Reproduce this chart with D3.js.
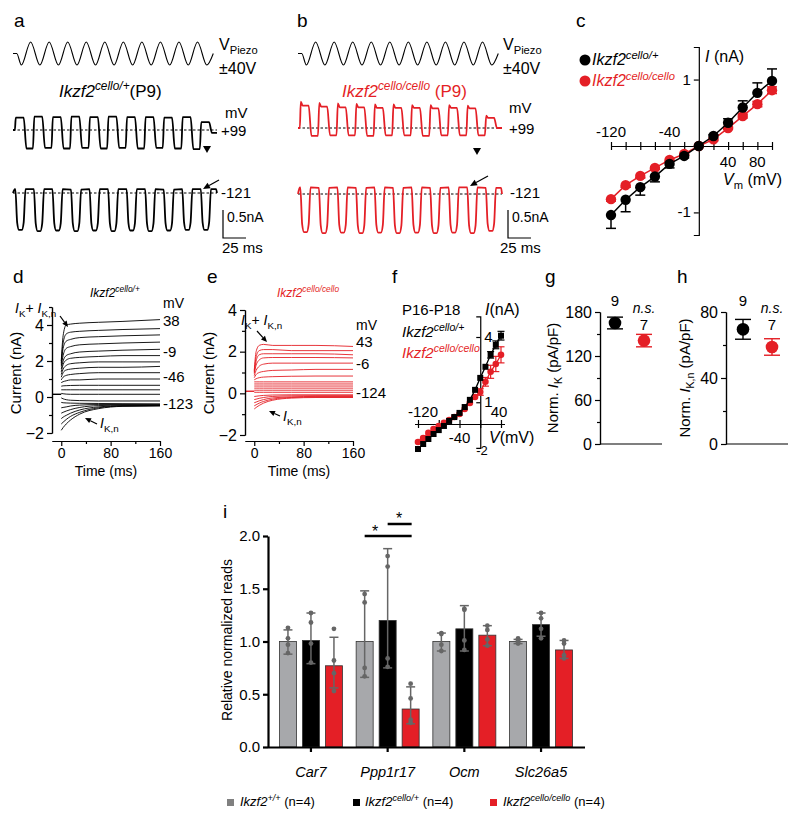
<!DOCTYPE html>
<html><head><meta charset="utf-8">
<script src="https://cdnjs.cloudflare.com/ajax/libs/d3/7.8.5/d3.min.js"></script>
<style>body{margin:0;background:#fff}svg{display:block}</style>
</head><body><svg id="fig" width="800" height="820"></svg>
<script>
// ---------------- DATA ----------------
// a,b: piezo stimulus extremes (V), alternating trough/peak every half period
const piezoExtremaV = [-40,40,-40,40,-40,40,-40,40,-40,40,-40,40,-40,40,-40,40,-40,40,-40,40,-40];
const stimHalfPeriodMs = 10, stimFirstExtremumMs = 9, stimOnsetMs = 4, stimEndMs = 216;
const metFirstCenterMs = 8, metPeriodMs = 20;
// MET currents (nA) at +99 mV (outward) and -121 mV (inward), per cycle
const hetOutTop = [0.22,0.24,0.23,0.24,0.23,0.24,0.23,0.23,0.22,0.23,0.14];
const hetOutBot = [-0.33,-0.32,-0.33,-0.32,-0.33,-0.32,-0.33,-0.32,-0.33,-0.34,-0.05];
const homOutPeak = [0.47,0.45,0.44,0.43,0.42,0.42,0.41,0.41,0.41,0.40,0.22];
const homOutTop = [0.40,0.38,0.37,0.37,0.36,0.36,0.36,0.35,0.36,0.35,0.18];
const homOutBot = [-0.14,-0.13,-0.13,-0.14,-0.13,-0.13,-0.14,-0.13,-0.13,-0.13,0];
const hetInTop = [0.07,0.07,0.07,0.06,0.07,0.07,0.07,0.07,0.06,0.07,0.07];
const hetInBot = [-0.66,-0.68,-0.67,-0.68,-0.67,-0.68,-0.67,-0.68,-0.67,-0.66,-0.66];
const homInTop = [0.12,0.11,0.12,0.11,0.12,0.11,0.12,0.11,0.12,0.12,0.11];
const homInBot = [-0.68,-0.70,-0.69,-0.70,-0.69,-0.70,-0.69,-0.70,-0.69,-0.70,-0.66];

// c: I-V of MET current
const cV = [-120,-100,-80,-60,-40,-20,0,20,40,60,80,100];
const cHet = [-1.04,-0.81,-0.62,-0.46,-0.27,-0.15,0,0.15,0.35,0.58,0.80,0.98];
const cHetErr = [0.20,0.18,0.12,0.08,0.06,0.03,0,0.02,0.06,0.10,0.15,0.18];
const cHom = [-0.80,-0.59,-0.45,-0.33,-0.21,-0.12,0,0.10,0.27,0.45,0.63,0.84];
const cHomErr = [0.03,0.03,0.03,0.02,0.02,0.02,0,0.02,0.02,0.03,0.04,0.05];

// d,e: K+ current families (nA) sampled at these times (ms)
const famTimes = [0,3,8,15,30,60,100,160];
const dCurrents = [
  [2.0,3.4,4.0,4.05,4.1,4.15,4.2,4.3],
  [1.9,3.0,3.5,3.6,3.65,3.7,3.75,3.8],
  [1.8,2.7,3.1,3.2,3.3,3.35,3.4,3.45],
  [1.7,2.3,2.7,2.8,2.9,2.95,3.0,3.05],
  [1.55,2.0,2.3,2.4,2.5,2.55,2.6,2.65],
  [1.4,1.8,2.05,2.15,2.2,2.25,2.3,2.3],
  [1.25,1.55,1.75,1.85,1.9,1.95,1.95,1.95],
  [1.1,1.35,1.5,1.55,1.6,1.65,1.65,1.7],
  [0.95,1.1,1.2,1.25,1.3,1.35,1.35,1.35],
  [0.8,0.85,0.9,0.95,0.95,1.0,1.0,1.0],
  [0.6,0.62,0.63,0.64,0.65,0.65,0.65,0.65],
  [0.4,0.4,0.4,0.4,0.4,0.4,0.4,0.4],
  [0.2,0.18,0.16,0.15,0.15,0.15,0.15,0.15],
  [-0.05,-0.1,-0.15,-0.18,-0.2,-0.22,-0.22,-0.22],
  [-0.3,-0.32,-0.33,-0.34,-0.35,-0.36,-0.37,-0.38],
  [-0.6,-0.58,-0.55,-0.5,-0.45,-0.42,-0.42,-0.42],
  [-0.9,-0.85,-0.78,-0.7,-0.58,-0.48,-0.45,-0.45],
  [-1.2,-1.12,-1.02,-0.9,-0.72,-0.55,-0.48,-0.47],
  [-1.5,-1.4,-1.25,-1.08,-0.85,-0.6,-0.5,-0.48],
  [-1.85,-1.7,-1.5,-1.28,-0.95,-0.65,-0.52,-0.5]
];
const dHoldNA = 0.15;
const eCurrents = [
  [1.1,2.0,2.3,2.35,2.3,2.3,2.3,2.25],
  [1.05,1.75,2.05,2.1,2.1,2.05,2.05,2.05],
  [1.0,1.55,1.85,1.9,1.9,1.9,1.9,1.85],
  [0.95,1.35,1.6,1.7,1.72,1.72,1.72,1.7],
  [0.85,1.1,1.3,1.4,1.45,1.45,1.45,1.45],
  [0.75,0.9,1.0,1.05,1.1,1.12,1.15,1.15],
  [0.65,0.7,0.75,0.78,0.8,0.82,0.83,0.83],
  [0.55,0.55,0.55,0.55,0.55,0.55,0.55,0.55],
  [0.45,0.45,0.45,0.45,0.45,0.45,0.45,0.45],
  [0.35,0.35,0.35,0.35,0.35,0.35,0.35,0.35],
  [0.25,0.25,0.25,0.25,0.25,0.25,0.25,0.25],
  [0.15,0.15,0.15,0.15,0.15,0.15,0.15,0.15],
  [0.05,0.05,0.05,0.05,0.05,0.05,0.05,0.05],
  [-0.15,-0.14,-0.12,-0.1,-0.08,-0.07,-0.07,-0.07],
  [-0.3,-0.28,-0.24,-0.2,-0.15,-0.12,-0.11,-0.11],
  [-0.45,-0.42,-0.36,-0.3,-0.22,-0.17,-0.15,-0.15],
  [-0.6,-0.55,-0.47,-0.39,-0.28,-0.2,-0.18,-0.18],
  [-0.75,-0.68,-0.58,-0.47,-0.33,-0.23,-0.2,-0.2]
];
const eHoldNA = 0.1;

// f: steady-state I-V (P16-P18)
const fV = [-120,-110,-100,-90,-80,-70,-60,-50,-40,-30,-20,-10,0,10,20,30,40];
const fHet = [-1.15,-0.92,-0.69,-0.46,-0.28,-0.09,0.14,0.32,0.51,0.78,1.11,1.57,2.12,2.63,3.18,3.64,4.06];
const fHetErr = [0,0,0,0,0,0,0,0,0,0,0,0,0,0,0.15,0.18,0.2];
const fHom = [-0.83,-0.65,-0.41,-0.23,-0.09,0.05,0.18,0.32,0.46,0.69,0.97,1.24,1.47,1.94,2.4,2.76,3.18];
const fHomErr = [0,0,0,0,0,0,0,0,0,0,0,0,0.15,0.2,0.3,0.35,0.37];

// g,h: normalised currents (mean, SEM, n)
const ghGroups = ['het','hom'];
const gMean = [165,141], gErr = [8,8.5], gN = [9,7];
const hMean = [69.5,58.8], hErr = [6,5], hN = [9,7];

// i: RNA-seq
const genes = ['Car7','Ppp1r17','Ocm','Slc26a5'];
const genotypes = ['wt','het','hom'];
const barMeans = [[1.0,1.01,0.77],[1.0,1.2,0.36],[1.0,1.12,1.06],[1.0,1.16,0.92]];
const barErrHi = [[1.11,1.27,1.04],[1.48,1.88,0.57],[1.08,1.34,1.15],[1.02,1.27,1.01]];
const barErrLo = [[0.88,0.79,0.56],[0.66,0.75,0.22],[0.91,0.91,0.96],[0.98,1.05,0.84]];
const barPoints = [
  [[1.13,1.03,0.97,0.89],[1.27,1.18,0.98,0.80],[1.12,0.82,0.70,0.53]],
  [[1.45,1.37,0.75,0.67],[1.81,1.71,0.84,0.76],[0.60,0.46,0.26,0.23]],
  [[1.08,1.07,0.97,0.91],[1.31,1.30,1.01,0.92],[1.15,1.11,1.02,0.96]],
  [[1.03,1.01,0.99,0.98],[1.27,1.22,1.12,1.03],[1.01,0.98,0.87,0.84]]
];
const yTicksI = [0,0.5,1.0,1.5,2.0];

// ---------------- DRAWING ----------------
const FONT = '"Liberation Sans", Arial, Helvetica, sans-serif';
const RED = '#e41f26';
const svg = d3.select('#fig').attr('font-family', FONT);
svg.append('rect').attr('width',800).attr('height',820).attr('fill','#fff');

function rich(parent, x, y, segs, size, fill, anchor, rotate) {
  const t = parent.append('text').attr('x', x).attr('y', y).attr('font-size', size)
    .attr('fill', fill || '#000').attr('text-anchor', anchor || 'start');
  if (rotate) t.attr('transform', `rotate(${rotate},${x},${y})`);
  let shift = 0;
  segs.forEach(s => {
    const txt = s[0], kind = s[1] || '';
    let target = 0, fs = size;
    if (kind.includes('sup')) { target = -size*0.4; fs = size*0.7; }
    if (kind.includes('sub')) { target = size*0.28; fs = size*0.7; }
    const sp = t.append('tspan').text(txt).attr('font-size', fs);
    if (target !== shift) sp.attr('dy', target - shift);
    shift = target;
    if (kind.includes('i')) sp.attr('font-style', 'italic');
  });
  return t;
}
function arrow(g, x1, y1, x2, y2, size) {
  size = size || 6;
  const a = Math.atan2(y2-y1, x2-x1);
  const bx = x2 - size*Math.cos(a), by = y2 - size*Math.sin(a);
  g.append('line').attr('x1',x1).attr('y1',y1).attr('x2',bx).attr('y2',by).attr('stroke','#000').attr('stroke-width',1.2);
  const w = size*0.45;
  g.append('polygon').attr('points', [[x2,y2],[bx + w*Math.sin(a), by - w*Math.cos(a)],[bx - w*Math.sin(a), by + w*Math.cos(a)]].map(p=>p.join(',')).join(' ')).attr('fill','#000');
}
function styleAxis(ax, size) {
  ax.attr('font-family', FONT).attr('font-size', size || 15);
  ax.selectAll('path,line').attr('stroke','#000').attr('stroke-width',1.2);
  ax.selectAll('text').attr('fill','#000');
}

// panel letters
[['a',14,27],['b',297,27],['c',576,27],['d',13,283],['e',207,283],['f',392,283],['g',545,283],['h',677,283],['i',223,518]]
  .forEach(([t,x,y]) => svg.append('text').attr('x',x).attr('y',y).attr('font-size',19).text(t));

// ----- a, b -----
function tracePanel(ox, color, outTop, outBot, outPeak, inTop, inBot, zeroOut, zeroIn) {
  const g = svg.append('g');
  const xT = d3.scaleLinear().domain([0,220]).range([13+ox, 217+ox]);
  const yS = d3.scaleLinear().domain([-40,40]).range([65,42]);
  const yO = d3.scaleLinear().domain([0,0.5]).range([zeroOut, zeroOut-28]);
  const yI = d3.scaleLinear().domain([0,0.5]).range([zeroIn, zeroIn-28]);
  const sp = [[0,0],[stimOnsetMs,0]];
  piezoExtremaV.forEach((v,i)=> sp.push([stimFirstExtremumMs + stimHalfPeriodMs*i, v]));
  sp.push([stimEndMs, 0]);
  g.append('path').attr('d', d3.line().x(d=>xT(d[0])).y(d=>yS(d[1])).curve(d3.curveMonotoneX)(sp))
    .attr('fill','none').attr('stroke','#000').attr('stroke-width',1.1);
  [zeroOut, zeroIn].forEach(z => g.append('line').attr('x1',xT(0)).attr('x2',xT(220)).attr('y1',z).attr('y2',z)
    .attr('stroke','#000').attr('stroke-width',1).attr('stroke-dasharray','2.5,2'));
  const op = [[0,0],[2,0]];
  outTop.forEach((tp,k) => {
    const c = metFirstCenterMs + metPeriodMs*k;
    if (outPeak) op.push([c-5, outPeak[k]], [c-3, tp]); else op.push([c-5, tp]);
    op.push([c+3.5, tp], [c+6.5, outBot[k]], [c+13.5, outBot[k]]);
  });
  const opF = op.filter(p=>p[0] < 219); opF.push([220, outBot[outBot.length-1]]);
  g.append('path').attr('d', d3.line().x(d=>xT(d[0])).y(d=>yO(d[1])).curve(d3.curveMonotoneX)(opF))
    .attr('fill','none').attr('stroke',color).attr('stroke-width',1.8).attr('stroke-linejoin','round');
  const ip = [[0,0],[2,inTop[0]]];
  inBot.forEach((b,k) => {
    const c = metFirstCenterMs + metPeriodMs*k;
    ip.push([c-5.5, inTop[k]], [c-3.5, b*0.8], [c-1.5, b], [c+1.5, b], [c+3.5, b*0.8], [c+5.5, inTop[k]]);
  });
  ip.push([219, inTop[inTop.length-1]], [220, 0]);
  g.append('path').attr('d', d3.line().x(d=>xT(d[0])).y(d=>yI(d[1])).curve(d3.curveMonotoneX)(ip))
    .attr('fill','none').attr('stroke',color).attr('stroke-width',1.8).attr('stroke-linejoin','round');
  return {g, xT, yO, yI};
}

tracePanel(0, '#000', hetOutTop, hetOutBot, null, hetInTop, hetInBot, 130, 193);
rich(svg, 219, 50, [['V'],['Piezo','sub']], 16);
svg.append('text').attr('x',219).attr('y',74).attr('font-size',16).text('±40V');
rich(svg, 59, 97, [['Ikzf2','i'],['cello/+','isup'],['(P9)']], 17);
svg.append('text').attr('x',225).attr('y',118).attr('font-size',15).text('mV');
svg.append('text').attr('x',221).attr('y',136).attr('font-size',15).text('+99');
svg.append('text').attr('x',221).attr('y',198).attr('font-size',15).text('-121');
svg.append('path').attr('d','M203,146 L211,146 L207,153 Z').attr('fill','#000');
arrow(svg, 219, 180, 203, 189, 7);
svg.append('path').attr('d', `M223,210 L223,238 L246,238`).attr('fill','none').attr('stroke','#000').attr('stroke-width',1.2);
svg.append('text').attr('x',227).attr('y',222).attr('font-size',14).text('0.5nA');
svg.append('text').attr('x',222).attr('y',253).attr('font-size',15).text('25 ms');

tracePanel(285, RED, homOutTop, homOutBot, homOutPeak, homInTop, homInBot, 128, 194);
rich(svg, 503, 50, [['V'],['Piezo','sub']], 16);
svg.append('text').attr('x',503).attr('y',74).attr('font-size',16).text('±40V');
rich(svg, 342, 97, [['Ikzf2','i'],['cello/cello','isup'],[' (P9)']], 17, RED);
svg.append('text').attr('x',509).attr('y',113).attr('font-size',15).text('mV');
svg.append('text').attr('x',509).attr('y',134).attr('font-size',15).text('+99');
svg.append('text').attr('x',510).attr('y',198).attr('font-size',15).text('-121');
svg.append('path').attr('d','M473,148 L481,148 L477,155 Z').attr('fill','#000');
arrow(svg, 488, 176, 470, 186, 7);
svg.append('path').attr('d', `M508,210 L508,238 L531,238`).attr('fill','none').attr('stroke','#000').attr('stroke-width',1.2);
svg.append('text').attr('x',512).attr('y',222).attr('font-size',14).text('0.5nA');
svg.append('text').attr('x',500).attr('y',253).attr('font-size',15).text('25 ms');

// ----- c -----
(function(){
  const g = svg.append('g');
  const x = d3.scaleLinear().domain([-120,100]).range([611,772]);
  const y = d3.scaleLinear().domain([-1.34,1.49]).range([235,47]);
  const y0 = y(0), x0 = x(0);
  const xt = d3.range(-120,101,20);
  const axB = g.append('g').attr('transform',`translate(0,${y0})`).call(d3.axisBottom(x).tickValues(xt).tickSize(4).tickSizeOuter(0).tickFormat(''));
  const axT = g.append('g').attr('transform',`translate(0,${y0})`).call(d3.axisTop(x).tickValues(xt).tickSize(4).tickSizeOuter(0).tickFormat(''));
  const axL = g.append('g').attr('transform',`translate(${x0},0)`).call(d3.axisLeft(y).tickValues([-1,1]).tickSize(5).tickSizeOuter(5).tickFormat(''));
  [axB,axT,axL].forEach(a=>styleAxis(a));
  [[-120,137],[-40,137]].forEach(([v,yy])=>g.append('text').attr('x',x(v)).attr('y',yy).attr('text-anchor','middle').attr('font-size',15).text(v));
  [[40,167],[80,167]].forEach(([v,yy])=>g.append('text').attr('x',x(v)).attr('y',yy).attr('text-anchor','middle').attr('font-size',15).text(v));
  g.append('text').attr('x',x0-8).attr('y',y(1)+5).attr('text-anchor','end').attr('font-size',15).text('1');
  g.append('text').attr('x',x0-8).attr('y',y(-1)+5).attr('text-anchor','end').attr('font-size',15).text('-1');
  rich(g, 705, 62, [['I','i'],[' (nA)']], 16);
  rich(g, 723, 185, [['V','i'],['m','sub'],[' (mV)']], 16);
  const line = d3.line().x((d,i)=>x(cV[i])).y(d=>y(d));
  [[cHom, cHomErr, RED, true],[cHet, cHetErr, '#000', false]].forEach(([vals, errs, col, both]) => {
    g.append('path').attr('d', line(vals)).attr('fill','none').attr('stroke',col).attr('stroke-width',1.5);
    vals.forEach((v,i) => {
      if (!errs[i]) return;
      const sgn = v >= 0 ? 1 : -1;
      const e1 = both ? v - errs[i] : v, e2 = v + sgn*errs[i];
      g.append('line').attr('x1',x(cV[i])).attr('x2',x(cV[i])).attr('y1',y(e1)).attr('y2',y(e2)).attr('stroke',col).attr('stroke-width',1.5);
      [e2].concat(both ? [e1] : []).forEach(e => g.append('line').attr('x1',x(cV[i])-5).attr('x2',x(cV[i])+5).attr('y1',y(e)).attr('y2',y(e)).attr('stroke',col).attr('stroke-width',1.5));
    });
    g.selectAll(null).data(vals).enter().append('circle').attr('cx',(d,i)=>x(cV[i])).attr('cy',d=>y(d)).attr('r',5.2).attr('fill',col);
  });
  g.append('circle').attr('cx',585).attr('cy',60).attr('r',5.5).attr('fill','#000');
  rich(g, 592, 65, [['Ikzf2','i'],['cello/+','isup']], 16);
  g.append('circle').attr('cx',585).attr('cy',81).attr('r',5.5).attr('fill',RED);
  rich(g, 592, 86, [['Ikzf2','i'],['cello/cello','isup']], 16, RED);
})();

// ----- d, e -----
function familyPanel(cur, hold, col, xr, yDom, yr, minorY) {
  const g = svg.append('g');
  const x = d3.scaleLinear().domain([-15,160]).range(xr);
  const y = d3.scaleLinear().domain(yDom).range(yr);
  const line = d3.line().x((d,i)=>x(famTimes[i])).y(d=>y(d)).curve(d3.curveMonotoneX);
  g.selectAll(null).data(cur).enter().append('path').attr('d', d=>line(d))
    .attr('fill','none').attr('stroke',col).attr('stroke-width',0.9);
  g.append('line').attr('x1',x(-15)).attr('x2',x(0)).attr('y1',y(hold)).attr('y2',y(hold)).attr('stroke',col).attr('stroke-width',1.4);
  const fmt = d3.format('d');
  const axY = g.append('g').attr('transform',`translate(${xr[0]},0)`).call(d3.axisLeft(y).tickValues([-2,0,2,4]).tickFormat(fmt).tickSize(5).tickSizeOuter(0).tickPadding(3));
  const axYm = g.append('g').attr('transform',`translate(${xr[0]},0)`).call(d3.axisLeft(y).tickValues(minorY).tickSize(3).tickSizeOuter(0).tickFormat(''));
  const axX = g.append('g').attr('transform',`translate(0,441)`).call(d3.axisBottom(x).tickValues([0,80,160]).tickFormat(fmt).tickSize(5).tickSizeOuter(0).tickPadding(2));
  const axXm = g.append('g').attr('transform',`translate(0,441)`).call(d3.axisBottom(x).tickValues([40,120]).tickSize(3).tickSizeOuter(0).tickFormat(''));
  [axY,axYm].forEach(a=>styleAxis(a, 16));
  [axX,axXm].forEach(a=>styleAxis(a, 14));
  g.append('text').attr('x',(xr[0]+xr[1])/2).attr('y',476).attr('text-anchor','middle').attr('font-size',14).text('Time (ms)');
  g.append('text').attr('transform',`translate(${xr[0]-31},373) rotate(-90)`).attr('text-anchor','middle').attr('font-size',15).text('Current (nA)');
  return {g,x,y};
}
familyPanel(dCurrents, dHoldNA, '#000', [52,160], [-2,5], [433,307], [-1,1,3,5]);
rich(svg, 90, 297, [['Ikzf2','i'],['cello/+','isup']], 12);
svg.append('text').attr('x',163).attr('y',308).attr('font-size',14).text('mV');
[['38',326],['-9',357],['-46',382],['-123',409]].forEach(([t,yy])=>svg.append('text').attr('x',163).attr('y',yy).attr('font-size',15).text(t));
rich(svg, 15, 313, [['I','i'],['K','sub'],['+ '],['I','i'],['K,n','sub']], 14);
arrow(svg, 60, 316, 68, 327, 6);
rich(svg, 100, 428, [['I','i'],['K,n','sub']], 14);
arrow(svg, 97, 424, 85, 418, 6);

familyPanel(eCurrents, eHoldNA, RED, [245,353], [-2,4], [435,310], [-1,1,3]);
rich(svg, 277, 297, [['Ikzf2','i'],['cello/cello','isup']], 12, RED);
svg.append('text').attr('x',356).attr('y',330).attr('font-size',14).text('mV');
[['43',347],['-6',369],['-124',398]].forEach(([t,yy])=>svg.append('text').attr('x',356).attr('y',yy).attr('font-size',15).text(t));
rich(svg, 241, 325, [['I','i'],['K','sub'],['+ '],['I','i'],['K,n','sub']], 14);
arrow(svg, 257, 331, 267, 342, 6);
rich(svg, 283, 421, [['I','i'],['K,n','sub']], 14);
arrow(svg, 280, 416, 269, 411, 6);

// ----- f -----
(function(){
  const g = svg.append('g');
  const x = d3.scaleLinear().domain([-120,40]).range([418,501]);
  const y = d3.scaleLinear().domain([0,4]).range([424,337]);
  const xt = [-120,-80,-40,0,40];
  const axB = g.append('g').attr('transform',`translate(0,${y(0)})`).call(d3.axisBottom(x).tickValues(xt).tickSize(4).tickSizeOuter(0).tickFormat(''));
  const axT = g.append('g').attr('transform',`translate(0,${y(0)})`).call(d3.axisTop(x).tickValues(xt).tickSize(4).tickSizeOuter(0).tickFormat(''));
  const yAx = d3.scaleLinear().domain([-1.1,4.95]).range([y(-1.1), y(4.95)]);
  const axL = g.append('g').attr('transform',`translate(${x(0)},0)`).call(d3.axisLeft(yAx).tickValues([1,4]).tickSize(4).tickSizeOuter(4).tickFormat(''));
  [axB,axT,axL].forEach(a=>styleAxis(a));
  g.select('.domain').attr('d', `M${x(-120)-3},0.5H${x(40)+4}`);
  g.append('text').attr('x',x(-120)+5).attr('y',417).attr('text-anchor','middle').attr('font-size',15).text('-120');
  g.append('text').attr('x',x(-40)).attr('y',443).attr('text-anchor','middle').attr('font-size',15).text('-40');
  g.append('text').attr('x',x(40)-2).attr('y',417).attr('text-anchor','middle').attr('font-size',15).text('40');
  g.append('text').attr('x',x(0)+4).attr('y',y(4)+5).attr('font-size',15).text('4');
  g.append('text').attr('x',x(0)+4).attr('y',y(1)+5).attr('font-size',15).text('1');
  g.append('text').attr('x',x(0)-4).attr('y',455).attr('font-size',13).text('-2');
  rich(g, 487, 443, [['I','i'],['(nA)']], 16).attr('y',315).attr('x',485);
  rich(g, 489, 443, [['V','i'],['(mV)']], 16);
  svg.append('text').attr('x',402).attr('y',315).attr('font-size',15).text('P16-P18');
  rich(svg, 402, 337, [['Ikzf2','i'],['cello/+','isup']], 15);
  rich(svg, 402, 358, [['Ikzf2','i'],['cello/cello','isup']], 15, RED);
  const line = d3.line().x((d,i)=>x(fV[i])).y(d=>y(d));
  [[fHom, fHomErr, RED, 'circle'],[fHet, fHetErr, '#000', 'square']].forEach(([vals, errs, col, shape]) => {
    g.append('path').attr('d', line(vals)).attr('fill','none').attr('stroke',col).attr('stroke-width',1.3);
    vals.forEach((v,i)=>{
      if (!errs[i]) return;
      const e1 = v - errs[i], e2 = v + errs[i];
      g.append('line').attr('x1',x(fV[i])).attr('x2',x(fV[i])).attr('y1',y(e1)).attr('y2',y(e2)).attr('stroke',col).attr('stroke-width',1.2);
      [e1,e2].forEach(e=>g.append('line').attr('x1',x(fV[i])-3.5).attr('x2',x(fV[i])+3.5).attr('y1',y(e)).attr('y2',y(e)).attr('stroke',col).attr('stroke-width',1.2));
    });
    if (shape === 'circle') g.selectAll(null).data(vals).enter().append('circle').attr('cx',(d,i)=>x(fV[i])).attr('cy',d=>y(d)).attr('r',3.3).attr('fill',col);
    else g.selectAll(null).data(vals).enter().append('rect').attr('x',(d,i)=>x(fV[i])-3).attr('y',d=>y(d)-3).attr('width',6).attr('height',6).attr('fill',col);
  });
})();

// ----- g, h -----
function dotPanel(mean, err, ns, axX, dom, major, minor, xr, labelSegs, labelX) {
  const g = svg.append('g');
  const y = d3.scaleLinear().domain(dom).range([444,312]);
  const x = d3.scalePoint().domain(ghGroups).range(xr);
  const a1 = g.append('g').attr('transform',`translate(${axX},0)`).call(d3.axisLeft(y).tickValues(major).tickSize(5).tickSizeOuter(0).tickPadding(3));
  const a2 = g.append('g').attr('transform',`translate(${axX},0)`).call(d3.axisLeft(y).tickValues(minor).tickSize(3).tickSizeOuter(0).tickFormat(''));
  [a1,a2].forEach(a=>styleAxis(a, 16));
  g.append('line').attr('x1',axX).attr('x2',axX+62).attr('y1',444).attr('y2',444).attr('stroke','#000').attr('stroke-width',1.2);
  const cols = ['#000', RED];
  ghGroups.forEach((k,i)=>{
    const cx = x(k);
    g.append('line').attr('x1',cx).attr('x2',cx).attr('y1',y(mean[i]-err[i])).attr('y2',y(mean[i]+err[i])).attr('stroke',cols[i]).attr('stroke-width',1.4);
    [mean[i]-err[i], mean[i]+err[i]].forEach(e=>g.append('line').attr('x1',cx-8).attr('x2',cx+8).attr('y1',y(e)).attr('y2',y(e)).attr('stroke',cols[i]).attr('stroke-width',1.4));
    g.append('circle').attr('cx',cx).attr('cy',y(mean[i])).attr('r',6.3).attr('fill',cols[i]);
    g.append('text').attr('x',cx).attr('y', i===0 ? 306 : 330).attr('text-anchor','middle').attr('font-size',15).text(ns[i]);
  });
  g.append('text').attr('x',x('hom')).attr('y',313).attr('text-anchor','middle').attr('font-size',14).attr('font-style','italic').text('n.s.');
  rich(g, labelX, 378, labelSegs, 15, '#000', 'middle', -90);
}
dotPanel(gMean, gErr, gN, 600, [0,180], [0,60,120,180], [30,90,150], [615,644], [['Norm. '],['I','i'],['K','sub'],[' (pA/pF)']], 558);
dotPanel(hMean, hErr, hN, 726, [0,80], [0,40,80], [20,60], [743,772], [['Norm. '],['I','i'],['K,n','sub'],[' (pA/pF)']], 690);

// ----- i -----
(function(){
  const g = svg.append('g');
  const y = d3.scaleLinear().domain([0,2]).range([747,536]);
  const x = d3.scaleBand().domain(genes).range([272.6,579.4]);
  const xi = d3.scaleBand().domain(genotypes).range([-31.5,31.5]).paddingInner(0.26).paddingOuter(0);
  const fills = {wt:'#a7a8ab', het:'#000', hom:RED};
  genes.forEach((gene,gi)=>{
    const cx0 = x(gene) + x.bandwidth()/2;
    genotypes.forEach((gt,ti)=>{
      const bx = cx0 + xi(gt);
      const cx = bx + xi.bandwidth()/2;
      g.append('rect').attr('x',bx).attr('y',y(barMeans[gi][ti])).attr('width',xi.bandwidth()).attr('height',y(0)-y(barMeans[gi][ti]))
        .attr('fill',fills[gt]).attr('stroke','#333').attr('stroke-width',0.8);
      g.append('line').attr('x1',cx).attr('x2',cx).attr('y1',y(barErrLo[gi][ti])).attr('y2',y(barErrHi[gi][ti])).attr('stroke','#666').attr('stroke-width',1.5);
      [barErrLo[gi][ti], barErrHi[gi][ti]].forEach(e=>g.append('line').attr('x1',cx-4.5).attr('x2',cx+4.5).attr('y1',y(e)).attr('y2',y(e)).attr('stroke','#666').attr('stroke-width',1.5));
      g.selectAll(null).data(barPoints[gi][ti]).enter().append('circle').attr('cx',cx).attr('cy',d=>y(d)).attr('r',2.4).attr('fill','#666');
    });
  });
  const ay = g.append('g').attr('transform','translate(268,0)').call(d3.axisLeft(y).tickValues(yTicksI).tickFormat(d3.format('.1f')).tickSize(5).tickSizeOuter(0).tickPadding(3));
  const ax = g.append('g').attr('transform','translate(0,747)').call(d3.axisBottom(x).tickSize(5).tickSizeOuter(0).tickFormat(''));
  [ay,ax].forEach(a=>{ styleAxis(a, 15); a.selectAll('path,line').attr('stroke-width',2.2); });
  ax.select('.domain').attr('d','M268,0.5H585');
  genes.forEach(gene=>g.append('text').attr('x',x(gene)+x.bandwidth()/2).attr('y',777).attr('text-anchor','middle').attr('font-size',14.5).attr('font-style','italic').text(gene));
  g.append('text').attr('transform','translate(232,640) rotate(-90)').attr('text-anchor','middle').attr('font-size',14).text('Relative normalized reads');
  const c1 = x('Ppp1r17') + x.bandwidth()/2;
  const px = gt => c1 + xi(gt) + xi.bandwidth()/2;
  g.append('line').attr('x1',px('wt')).attr('x2',px('hom')+1).attr('y1',536).attr('y2',536).attr('stroke','#000').attr('stroke-width',2.5);
  g.append('line').attr('x1',px('het')).attr('x2',px('hom')+1).attr('y1',524).attr('y2',524).attr('stroke','#000').attr('stroke-width',2.5);
  g.append('text').attr('x',(px('wt')+px('het'))/2 - 1).attr('y',537).attr('text-anchor','middle').attr('font-size',16).text('*');
  g.append('text').attr('x',(px('het')+px('hom'))/2).attr('y',524).attr('text-anchor','middle').attr('font-size',16).text('*');
  const leg = [['#808080', 227, 240, [['Ikzf2','i'],['+/+','isup'],[' (n=4)']]],
               ['#000', 353, 365, [['Ikzf2','i'],['cello/+','isup'],[' (n=4)']]],
               [RED, 490, 503, [['Ikzf2','i'],['cello/cello','isup'],[' (n=4)']]]];
  leg.forEach(([c, sx, tx, segs])=>{
    g.append('rect').attr('x',sx).attr('y',799).attr('width',7).attr('height',7).attr('fill',c);
    rich(g, tx, 806, segs, 13);
  });
})();
</script></body></html>
